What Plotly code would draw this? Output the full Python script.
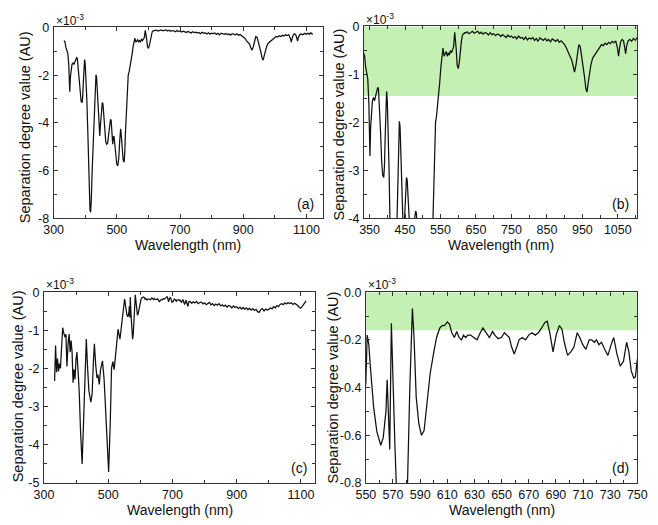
import plotly.graph_objects as go

# ---------------- data (separation degree values in units of 1e-3 AU) ----------------
# Spectrum 1 (panels a and b)
s1_uv_wl = [333, 336, 339, 342, 345, 348, 351, 353, 355, 358,
            361, 364, 367, 370, 373, 375, 378, 381, 384, 387,
            390, 392, 394, 396, 398, 400, 402, 405, 408, 411,
            413, 415, 417, 419, 422, 425, 428, 431, 434, 436,
            438, 441, 444, 446, 448, 451, 454, 456, 459, 462,
            465, 468, 471, 474, 477, 480, 482, 485, 487, 489,
            491, 494, 497, 500, 503, 506, 509, 512, 514, 517,
            520, 523, 525, 527, 530, 533, 536, 539, 542, 545,
            548, 551, 554, 557, 560, 563, 566, 569, 572, 575,
            578, 581, 584, 587, 590, 592, 594, 597, 600, 603,
            606, 609, 612, 615, 618]
s1_uv_val = [-0.55, -0.62, -0.85, -1.0, -1.1, -1.6, -2.7, -2.1, -1.85, -1.55,
             -1.48, -1.55, -1.45, -1.32, -1.27, -1.3, -1.7, -2.2, -2.8, -3.1,
             -3.15, -2.9, -2.3, -1.6, -1.35, -1.55, -2.0, -3.0, -4.3, -5.8,
             -7.0, -7.65, -7.75, -7.3, -6.0, -4.8, -3.6, -2.6, -1.98, -2.1,
             -2.6, -3.5, -4.5, -4.55, -4.1, -3.5, -3.15, -3.2, -3.7, -4.4,
             -4.8, -4.9, -4.85, -4.5, -4.0, -3.85, -3.9, -4.4, -4.9, -4.6,
             -4.55, -4.95, -5.4, -5.75, -5.8, -5.5, -4.8, -4.25, -4.5, -5.2,
             -5.55, -5.65, -5.3, -4.5, -3.5, -2.5, -2.0, -1.85, -1.65, -1.45,
             -1.15, -0.85, -0.6, -0.45, -0.62, -0.58, -0.52, -0.62, -0.55, -0.6,
             -0.5, -0.55, -0.5, -0.42, -0.12, -0.25, -0.45, -0.8, -0.88, -0.75,
             -0.5, -0.3, -0.18, -0.14, -0.13]
s1_vis_wl = [620, 625, 630, 635, 640, 645, 650, 655, 660, 665,
             670, 675, 680, 685, 690, 695, 700, 705, 710, 715,
             720, 725, 730, 735, 740, 745, 750, 755, 760, 765,
             770, 775, 780, 785, 790, 795, 800, 805, 810, 815,
             820, 825, 830, 835, 840, 845, 850, 855, 860, 865,
             870, 875, 880, 885, 890, 895, 900, 905]
s1_vis_val = [-0.14, -0.11, -0.15, -0.12, -0.10, -0.14, -0.12, -0.10, -0.15, -0.12,
              -0.16, -0.13, -0.14, -0.18, -0.13, -0.17, -0.15, -0.19, -0.16, -0.17,
              -0.21, -0.17, -0.20, -0.23, -0.18, -0.22, -0.20, -0.24, -0.21, -0.26,
              -0.20, -0.24, -0.23, -0.27, -0.22, -0.28, -0.24, -0.26, -0.23, -0.29,
              -0.25, -0.31, -0.24, -0.27, -0.29, -0.25, -0.30, -0.27, -0.32, -0.26,
              -0.29, -0.31, -0.27, -0.33, -0.30, -0.34, -0.38, -0.45]
s1_nir_wl = [910, 915, 920, 924, 928, 932, 936, 940, 944, 948,
             952, 956, 960, 963, 966, 970, 974, 979, 984, 989,
             994, 999, 1004, 1009, 1014, 1019, 1024, 1029, 1034, 1039,
             1044, 1049, 1052, 1055, 1058, 1062, 1066, 1069, 1072, 1075,
             1079, 1084, 1089, 1094, 1099, 1104, 1109, 1114, 1120]
s1_nir_val = [-0.55, -0.62, -0.7, -0.85, -0.95, -0.8, -0.55, -0.38, -0.42, -0.6,
              -0.8, -1.05, -1.3, -1.37, -1.2, -0.95, -0.8, -0.66, -0.6, -0.55,
              -0.5, -0.42, -0.38, -0.4, -0.35, -0.38, -0.33, -0.36, -0.31, -0.34,
              -0.3, -0.45, -0.62, -0.45, -0.32, -0.27, -0.3, -0.42, -0.57, -0.4,
              -0.3, -0.27, -0.31, -0.25, -0.29, -0.24, -0.28, -0.23, -0.3]

# Spectrum 2 (panels c and d)
s2_uv_wl = [333.2, 336.2, 339.3, 342.3, 345.3, 348.3, 351.3, 355.4, 358.4, 361.4,
            365.4, 368.5, 371.5, 375.5, 378.5, 381.5, 384.6, 387.6, 390.6, 393.6,
            396.7, 399.7, 402.7, 405.7, 409.7, 413.8, 418.8, 423.8, 427.9, 431.9,
            435.9, 440.0, 446.0, 450.0, 454.0, 457.0, 461.1, 465.1, 468.1, 472.2,
            476.2, 482.2, 487.3, 492.3, 496.3, 501.4, 506.4, 510.4, 514.5, 518.5,
            524.5, 530.6, 536.6, 542.7, 547.7]
s2_uv_val = [-2.33, -1.4, -2.1, -1.74, -2.08, -1.87, -2.0, -1.52, -0.93, -1.06,
             -1.18, -1.1, -1.95, -1.31, -1.1, -1.57, -1.27, -1.57, -2.37, -2.03,
             -2.29, -1.78, -1.57, -1.99, -2.59, -3.61, -4.5, -3.27, -1.99, -1.23,
             -1.99, -2.59, -2.88, -2.67, -1.82, -1.35, -1.9, -2.25, -2.16, -2.42,
             -2.03, -1.8, -2.29, -3.18, -3.86, -4.71, -3.44, -1.99, -1.82, -2.03,
             -1.52, -0.97, -1.23, -0.8, -0.5]
s2_mid_wl = [550, 551, 552.2, 553.3, 555.7, 558.1, 561, 562.8, 564.8, 565.7,
             566.7, 567.6, 568.8, 570, 571.4, 572.4, 574, 576, 578, 580.7,
             582.4, 584.3, 585.5, 587.1, 589, 591, 592.9, 595, 597.4, 599.8,
             602.1, 604.5, 606.4, 608, 610, 611.7, 613.3, 615.2, 617, 618.6,
             620.5, 621.9, 623.5, 625.2, 627.1, 629.5, 631.9, 634.3, 636.2, 638.6,
             641, 643.3, 645, 647.4, 649.8, 652.1, 654, 655.7, 657.4, 659.3,
             661.2, 662.9, 665.2, 667.6, 670, 672.4, 674.8, 677.1, 679.5, 681.9,
             683.6, 685.5, 687.9, 690.2, 692.6, 694.5, 696.2, 698.6, 701, 703.3,
             705.7, 707.6, 709.8, 712.1, 714.5, 716.4, 718.3, 720, 721.7, 723.6,
             726, 728.3, 730.7, 732.6, 735, 737.4, 739.8, 742.1, 743.8, 745.5,
             747.4, 748.6, 749.8, 751]
s2_mid_val = [-0.38, -0.18, -0.22, -0.31, -0.48, -0.585, -0.642, -0.61, -0.5, -0.367,
              -0.53, -0.66, -0.13, -0.4, -0.64, -0.8, -1.1, -1.23, -1.1, -0.8,
              -0.4, -0.068, -0.19, -0.44, -0.55, -0.6, -0.58, -0.47, -0.34, -0.26,
              -0.19, -0.15, -0.139, -0.14, -0.125, -0.135, -0.17, -0.19, -0.165, -0.19,
              -0.2, -0.18, -0.19, -0.18, -0.18, -0.19, -0.2, -0.17, -0.15, -0.17,
              -0.19, -0.165, -0.18, -0.195, -0.19, -0.17, -0.18, -0.19, -0.23, -0.259,
              -0.23, -0.2, -0.19, -0.2, -0.18, -0.17, -0.18, -0.17, -0.15, -0.127,
              -0.122, -0.17, -0.25, -0.18, -0.14, -0.155, -0.21, -0.265, -0.25, -0.23,
              -0.17, -0.19, -0.22, -0.24, -0.2, -0.2, -0.21, -0.2, -0.22, -0.21,
              -0.24, -0.265, -0.22, -0.19, -0.26, -0.31, -0.29, -0.21, -0.25, -0.33,
              -0.36, -0.355, -0.29, -0.25]
s2_nir_wl = [755, 760, 765, 770, 775, 780, 785, 790, 795, 800,
             805, 810, 815, 820, 825, 830, 835, 840, 845, 850,
             855, 860, 865, 870, 875, 880, 885, 890, 895, 900,
             905, 910, 915, 920, 925, 930, 935, 940, 945, 950,
             955, 960, 965, 970, 975, 980, 985, 990, 995, 1000,
             1005, 1010, 1015, 1020, 1025, 1030, 1035, 1040, 1045, 1050,
             1055, 1060, 1065, 1070, 1075, 1080, 1085, 1090, 1095, 1099,
             1104, 1109, 1116]
s2_nir_val = [-0.24, -0.29, -0.25, -0.28, -0.24, -0.3, -0.27, -0.26, -0.31, -0.28,
              -0.33, -0.29, -0.27, -0.33, -0.3, -0.35, -0.31, -0.34, -0.3, -0.36,
              -0.33, -0.37, -0.34, -0.39, -0.35, -0.37, -0.41, -0.36, -0.4, -0.38,
              -0.43, -0.39, -0.44, -0.4, -0.45, -0.41, -0.46, -0.42, -0.47, -0.43,
              -0.48, -0.45, -0.51, -0.53, -0.46, -0.43, -0.49, -0.44, -0.47, -0.45,
              -0.41, -0.44, -0.38, -0.41, -0.35, -0.38, -0.32, -0.3, -0.33, -0.28,
              -0.31, -0.27, -0.3, -0.28, -0.32, -0.29, -0.31, -0.35, -0.4, -0.42,
              -0.37, -0.31, -0.23]

# thresholds shown as green bands (same units)
band_b = -1.45
band_d = -0.16

# tick labels
a_xticks = [300, 500, 700, 900, 1100]
a_yticks = [-8, -6, -4, -2, 0]
b_xticks = [350, 450, 550, 650, 750, 850, 950, 1050]
b_yticks = [-4, -3, -2, -1, 0]
c_xticks = [300, 500, 700, 900, 1100]
c_yticks = [-5, -4, -3, -2, -1, 0]
d_xticks = [550, 570, 590, 610, 630, 650, 670, 690, 710, 730, 750]
d_yticks = [-0.8, -0.6, -0.4, -0.2, 0.0]
d_yticktext = ["-0.8", "-0.6", "-0.4", "-0.2", "0.0"]
panel_labels = ["(a)", "(b)", "(c)", "(d)"]
x_title = "Wavelength (nm)"
y_title = "Separation degree value (AU)"

s1_wl = s1_uv_wl + s1_vis_wl + s1_nir_wl
s1_val = s1_uv_val + s1_vis_val + s1_nir_val
s2_wl = s2_uv_wl + s2_mid_wl + s2_nir_wl
s2_val = s2_uv_val + s2_mid_val + s2_nir_val

# ---------------- layout ----------------
W, H = 658, 525
FONT = "Arial, 'Liberation Sans', sans-serif"
AXC = "#333333"
TICKFONT = dict(family=FONT, size=12.5, color="#111")


def fx(p):
    return p / W


def fy(p):
    return 1 - p / H


# pixel boxes: (left, right, top, bottom)
boxes = {
    1: (45, 323, 21, 217),
    2: (365, 647, 20, 217),
    3: (35, 315, 293, 489),
    4: (367, 647, 293, 489),
}


def common(ticks, texts, minor_tick0, minor_dtick):
    return dict(tickmode="array", tickvals=ticks,
                ticktext=texts if texts else [str(v) for v in ticks],
                ticks="inside", ticklen=4, tickwidth=1, tickcolor=AXC,
                minor=dict(tickmode="linear", tick0=minor_tick0, dtick=minor_dtick,
                           ticks="inside", ticklen=3, tickwidth=1, tickcolor=AXC),
                showline=True, linecolor=AXC, linewidth=1, mirror="allticks",
                showgrid=False, zeroline=False, tickfont=TICKFONT)


def xaxis(n, rng, ticks, minor_tick0, minor_dtick, texts=None):
    l, r, t, b = boxes[n]
    d = dict(domain=[fx(l), fx(r)], range=rng, anchor="y%d" % n if n > 1 else "y",
             ticklabelstandoff=0)
    d.update(common(ticks, texts, minor_tick0, minor_dtick))
    return d


def yaxis(n, rng, ticks, minor_tick0, minor_dtick, texts=None):
    l, r, t, b = boxes[n]
    d = dict(domain=[fy(b), fy(t)], range=rng, anchor="x%d" % n if n > 1 else "x",
             ticklabelstandoff=1)
    d.update(common(ticks, texts, minor_tick0, minor_dtick))
    return d


fig = go.Figure()
line = dict(color="#111111", width=1.25)
fig.add_trace(go.Scatter(x=s1_wl, y=s1_val, mode="lines", line=line, xaxis="x", yaxis="y"))
fig.add_trace(go.Scatter(x=s1_wl, y=s1_val, mode="lines", line=line, xaxis="x2", yaxis="y2"))
fig.add_trace(go.Scatter(x=s2_wl, y=s2_val, mode="lines", line=line, xaxis="x3", yaxis="y3"))
fig.add_trace(go.Scatter(x=s2_wl, y=s2_val, mode="lines", line=line, xaxis="x4", yaxis="y4"))

GREEN = "rgb(196,240,180)"
shapes = [
    dict(type="rect", xref="x2 domain", yref="y2", x0=0, x1=1, y0=band_b, y1=0,
         fillcolor=GREEN, line=dict(width=0), layer="below"),
    dict(type="rect", xref="x4 domain", yref="y4", x0=0, x1=1, y0=band_d, y1=0,
         fillcolor=GREEN, line=dict(width=0), layer="below"),
]

ann = []
for n, (l, r, t, b) in boxes.items():
    # x title
    ann.append(dict(text=x_title, x=fx((l + r) / 2), y=fy(b + 28), xref="paper", yref="paper",
                    showarrow=False, xanchor="center", yanchor="middle",
                    font=dict(family=FONT, size=14, color="#111")))
    # multiplier
    ann.append(dict(text="×10<sup>-3</sup>", x=fx(l), y=fy(t - 8), xref="paper", yref="paper",
                    showarrow=False, xanchor="left", yanchor="middle",
                    font=dict(family=FONT, size=12, color="#111")))
    # panel label
    ann.append(dict(text=panel_labels[n - 1], x=fx(r - 7), y=fy(b - 15), xref="paper", yref="paper",
                    showarrow=False, xanchor="right", yanchor="middle",
                    font=dict(family=FONT, size=14, color="#111")))

ytitle_pos = {1: (15, 124), 2: (339, 121), 3: (8, 390), 4: (333, 391)}
for n, (xp, yp) in ytitle_pos.items():
    ann.append(dict(text=y_title, x=fx(xp), y=fy(yp), xref="paper", yref="paper",
                    showarrow=False, xanchor="center", yanchor="middle", textangle=-90,
                    font=dict(family=FONT, size=14.5, color="#111")))

fig.update_layout(
    width=W, height=H, margin=dict(l=0, r=0, t=0, b=0),
    paper_bgcolor="white", plot_bgcolor="white", showlegend=False,
    font=dict(family=FONT, size=12, color="#111"),
    xaxis=xaxis(1, [300, 1153], a_xticks, 300, 100),
    yaxis=yaxis(1, [-8, 0], a_yticks, -8, 1),
    xaxis2=xaxis(2, [334, 1105], b_xticks, 350, 50),
    yaxis2=yaxis(2, [-4, 0], b_yticks, -4, 0.5),
    xaxis3=xaxis(3, [300, 1145], c_xticks, 300, 100),
    yaxis3=yaxis(3, [-5, 0], c_yticks, -5, 0.5),
    xaxis4=xaxis(4, [550, 750], d_xticks, 550, 10),
    yaxis4=yaxis(4, [-0.8, 0], d_yticks, -0.8, 0.1, d_yticktext),
    shapes=shapes, annotations=ann,
)

fig.write_html("out.html")
